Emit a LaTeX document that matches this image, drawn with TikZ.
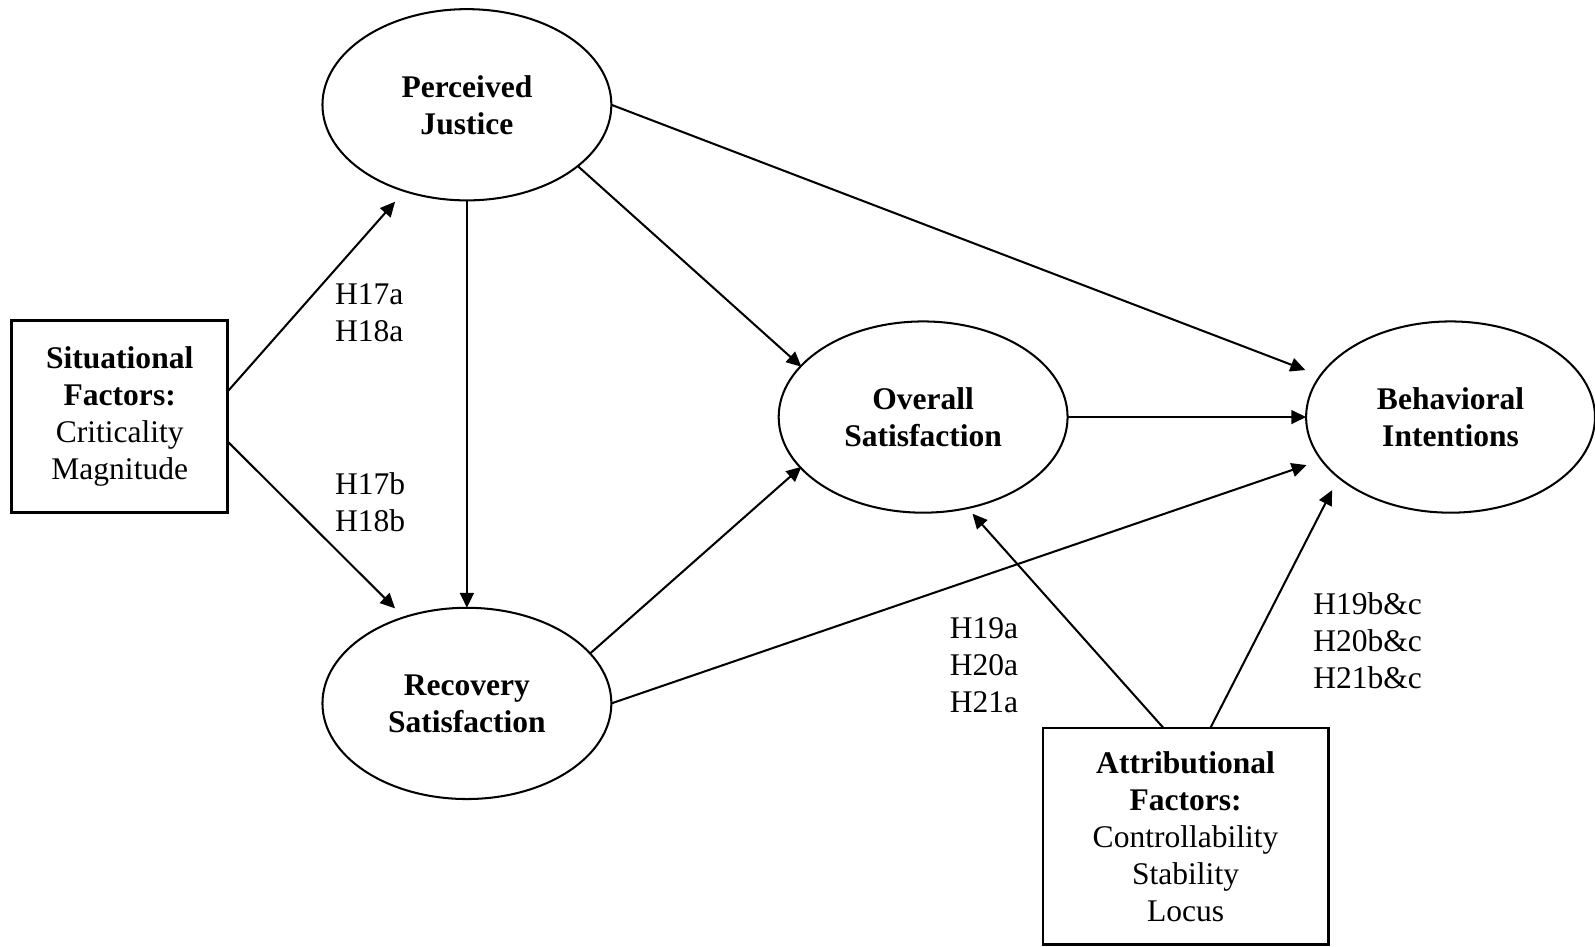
\documentclass[tikz,border=0pt]{standalone}
\usepackage{fontspec}
\setmainfont{Liberation Serif}
\usetikzlibrary{shapes.geometric,arrows.meta,calc}
\begin{document}
\begin{tikzpicture}[x=0.5pt,y=-0.5pt,
  every node/.style={font=\fontsize{15.5}{18.2}\selectfont},
  ell/.style={draw,line width=1pt,ellipse,minimum width=142pt,minimum height=94pt,
    inner sep=0pt,outer sep=0pt,align=center,font=\fontsize{15.5}{18.2}\selectfont\bfseries},
  factbox/.style={draw,line width=1.3pt,rectangle,inner sep=0pt,outer sep=0pt,align=center},
  arr/.style={-{Triangle[length=7.3pt,width=6.8pt]},line width=1pt},
  lab/.style={anchor=west,align=left,inner sep=0pt}]
\useasboundingbox (0,0) rectangle (1568,930);
% ellipses
\node[ell] (pj) at (459,103) {Perceived\\Justice};
\node[ell] (rs) at (459,691.5) {Recovery\\Satisfaction};
\node[ell] (os) at (907.5,410) {Overall\\Satisfaction};
\node[ell] (bi) at (1426,410) {Behavioral\\Intentions};
% boxes
\node[factbox,minimum width=106.2pt,minimum height=94.4pt] (sf) at (117.7,409.7)
  {\textbf{Situational}\\\textbf{Factors:}\\Criticality\\Magnitude};
\node[factbox,minimum width=140.3pt,minimum height=106.4pt] (af) at (1165.5,822.2)
  {\textbf{Attributional}\\\textbf{Factors:}\\Controllability\\Stability\\Locus};
% arrows
\draw[arr] ($(sf.east)+(0,-25)$) -- ($(pj)+(-70.6,95.3)$);
\draw[arr] ($(sf.east)+(0,24.5)$) -- ($(rs)+(-70.6,-93.4)$);
\draw[arr] (pj.south) -- (rs.north);
\draw[arr] ($(pj)+(109.7,60.9)$) -- ($(os)+(-119.7,-49.5)$);
\draw[arr] (pj.east) -- ($(bi)+(-142.8,-46.2)$);
\draw[arr] (os.east) -- (bi.west);
\draw[arr] ($(rs)+(121,-49)$) -- ($(os)+(-119.7,48.9)$);
\draw[arr] (rs.east) -- ($(bi)+(-141.6,47.2)$);
\draw[arr] ($(af.north)+(-21.6,0)$) -- ($(os)+(48.5,95)$);
\draw[arr] ($(af.north)+(24.3,0)$) -- ($(bi)+(-116.4,71.8)$);
% labels
\node[lab] (l17a) at (329,307) {H17a\\H18a};
\node[lab] (l17b) at (329,494) {H17b\\H18b};
\node[lab] (l19a) at (933.4,654) {H19a\\H20a\\H21a};
\node[lab] (l19b) at (1290.7,630) {H19b\&c\\H20b\&c\\H21b\&c};
\end{tikzpicture}
\end{document}
